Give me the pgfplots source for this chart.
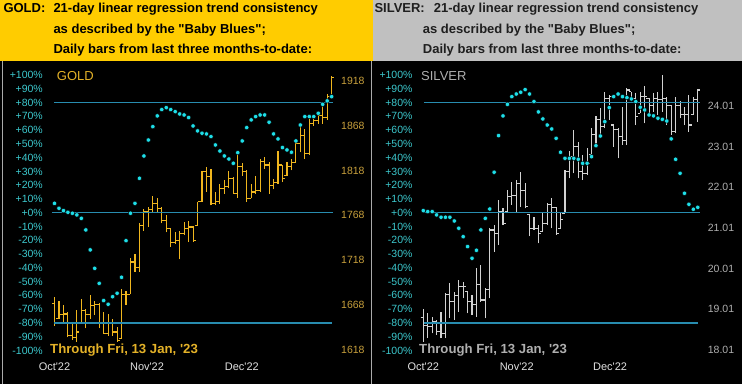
\documentclass[border=0pt]{standalone}
\usepackage{pgfplots}
\pgfplotsset{compat=1.18}
\usepackage{pgfplotstable}
\usepackage{fontspec}
\setmainfont{Liberation Sans}[Ligatures=TeXOff]

\definecolor{hdrgold}{RGB}{255,204,0}
\definecolor{hdrsilver}{RGB}{192,192,192}
\definecolor{pcttxt}{RGB}{60,200,205}
\definecolor{dotc}{RGB}{30,222,232}
\definecolor{hline}{RGB}{40,140,175}
\definecolor{goldbar}{RGB}{240,182,30}
\definecolor{goldtxt}{RGB}{228,178,40}
\definecolor{goldprice}{RGB}{200,160,60}
\definecolor{silverbar}{RGB}{210,210,210}
\definecolor{silvertxt}{RGB}{175,175,175}
\definecolor{monthtxt}{RGB}{225,225,225}
\definecolor{sep}{RGB}{170,170,170}

\newcommand\fs[1]{\fontsize{#1}{#1}\selectfont}

\pgfdeclareplotmark{otick}{\pgfpathmoveto{\pgfqpoint{-2.6pt}{0pt}}\pgfpathlineto{\pgfqpoint{0pt}{0pt}}\pgfusepathqstroke}
\pgfdeclareplotmark{ctick}{\pgfpathmoveto{\pgfqpoint{0pt}{0pt}}\pgfpathlineto{\pgfqpoint{2.6pt}{0pt}}\pgfusepathqstroke}

\pgfplotstableread{
x o h l c
0 1670 1677 1645 1649
1 1653 1673 1653 1657
2 1657 1668 1649 1658
3 1658 1660 1632 1634
4 1634 1649 1629 1632
5 1632 1662 1627 1638
6 1647 1675 1647 1662
7 1662 1664 1642 1657
8 1657 1679 1653 1668
9 1668 1673 1657 1669
10 1669 1670 1642 1649
11 1649 1660 1636 1636
12 1636 1658 1634 1649
13 1649 1653 1634 1638
14 1638 1644 1627 1629
15 1631 1686 1631 1680
16 1680 1684 1668 1680
17 1680 1720 1680 1716
18 1716 1725 1705 1710
19 1710 1759 1705 1757
20 1757 1775 1751 1772
21 1772 1777 1755 1774
22 1774 1790 1772 1781
23 1781 1787 1772 1776
24 1776 1777 1759 1762
25 1762 1768 1749 1753
26 1753 1753 1733 1738
27 1738 1749 1736 1740
28 1740 1751 1719 1748
29 1748 1760 1746 1753
30 1753 1762 1738 1755
31 1755 1756 1738 1740
32 1757 1783 1757 1783
33 1783 1817 1783 1817
34 1817 1822 1794 1811
35 1811 1820 1779 1781
36 1781 1794 1779 1783
37 1783 1803 1781 1798
38 1798 1807 1792 1800
39 1800 1817 1798 1809
40 1809 1811 1792 1792
41 1792 1835 1787 1822
42 1822 1826 1812 1817
43 1817 1818 1783 1787
44 1787 1803 1787 1794
45 1794 1812 1792 1796
46 1796 1831 1794 1828
47 1828 1833 1820 1824
48 1824 1827 1792 1801
49 1801 1808 1797 1805
50 1805 1840 1803 1824
51 1824 1824 1805 1809
52 1812 1827 1812 1822
53 1822 1831 1818 1827
54 1827 1852 1827 1848
55 1848 1868 1838 1857
56 1857 1864 1831 1837
57 1837 1877 1835 1870
58 1870 1879 1868 1874
59 1874 1883 1870 1879
60 1879 1894 1870 1877
61 1877 1903 1874 1900
62 1900 1923 1898 1922
}\golddata

\pgfplotstableread{
x o h l c
0 18.80 19.03 18.21 18.62
1 18.62 18.91 18.30 18.58
2 18.58 18.83 18.42 18.71
3 18.71 18.75 18.38 18.46
4 18.46 18.95 18.30 18.42
5 18.42 19.40 18.30 19.38
6 19.38 19.65 18.79 19.20
7 19.20 19.44 18.75 19.36
8 19.36 19.73 18.95 19.57
9 19.57 19.69 19.28 19.58
10 19.44 19.44 18.91 19.20
11 19.20 19.36 18.87 19.13
12 19.13 20.02 18.83 19.61
13 19.61 20.10 19.20 19.24
14 19.24 19.53 18.79 19.49
15 19.49 21.00 19.28 20.96
16 20.96 21.08 20.43 20.88
17 20.88 21.70 20.59 21.41
18 21.41 21.49 21.08 21.13
19 21.41 21.94 21.41 21.78
20 21.78 22.15 21.58 21.80
21 21.80 22.19 21.41 22.11
22 22.11 22.38 21.53 21.94
23 21.94 22.11 21.49 21.53
24 21.33 21.33 20.80 21.00
25 21.00 21.29 20.96 21.00
26 21.00 21.08 20.63 20.88
27 20.92 21.41 20.92 21.13
28 21.13 21.62 21.08 21.58
29 21.58 21.74 21.00 21.51
30 21.51 21.53 20.84 20.88
31 21.00 21.41 21.00 21.21
32 21.37 22.44 21.37 22.40
33 22.40 22.89 22.23 22.76
34 22.76 23.42 22.35 23.01
35 23.01 23.13 22.23 22.40
36 22.40 22.81 22.19 22.35
37 22.35 22.97 22.31 22.60
38 22.81 23.46 22.81 23.30
39 23.30 23.75 23.01 23.67
40 23.67 23.95 23.30 23.50
41 23.50 24.36 23.46 24.20
42 24.20 24.28 23.67 24.24
43 23.54 23.54 23.01 23.42
44 23.42 23.46 22.72 23.26
45 23.26 23.99 23.05 23.17
46 23.17 24.46 23.05 24.40
47 24.36 24.36 24.12 24.20
48 24.20 24.32 23.54 23.75
49 23.83 24.36 23.83 24.24
50 24.24 24.49 23.58 24.24
51 24.20 24.20 23.79 24.03
52 24.03 24.32 23.87 24.20
53 24.20 24.36 23.79 24.16
54 24.16 24.77 23.87 24.20
55 24.20 24.24 23.54 24.01
56 24.01 24.03 23.30 23.38
57 23.38 24.24 23.34 24.03
58 24.03 24.12 23.71 23.79
59 23.79 23.99 23.54 23.79
60 23.79 24.28 23.38 23.54
61 23.79 24.24 23.79 24.16
62 24.16 24.43 23.62 24.40
}\silverdata

\pgfplotstableread{
x p
0 6.8
1 3.2
2 1.5
3 0.3
4 -0.4
5 -1.6
6 -4.1
7 -12.5
8 -27.0
9 -40.4
10 -51.3
11 -63.8
12 -66.5
13 -61.0
14 -58.5
15 -46.9
16 -20.3
17 -0.4
18 6.8
19 25.0
20 41.2
21 52.8
22 62.5
23 70.3
24 74.9
25 76.3
26 74.9
27 73.4
28 71.7
29 71.0
30 69.1
31 63.0
32 59.4
33 57.7
34 57.2
35 55.3
36 49.2
37 44.8
38 41.2
39 39.0
40 35.9
41 43.6
42 52.1
43 61.8
44 67.4
45 69.8
46 71.0
47 71.0
48 65.7
49 57.2
50 53.6
51 47.3
52 45.6
53 43.9
54 52.1
55 63.7
56 69.8
57 69.8
58 69.8
59 72.2
60 78.7
61 81.2
62 84.3
}\goldpct

\pgfplotstableread{
x p
0 1.5
1 0.8
2 0.8
3 -1.6
4 -3.3
5 -3.3
6 -3.3
7 -6.0
8 -11.3
9 -17.4
10 -24.6
11 -33.1
12 -27.3
13 -12.5
14 -4.1
15 2.7
16 29.4
17 56.0
18 70.3
19 78.7
20 84.3
21 86.2
22 87.5
23 89.4
24 86.2
25 80.7
26 73.2
27 68.1
28 63.7
29 60.8
30 54.0
31 43.9
32 39.5
33 39.5
34 39.5
35 38.8
36 35.9
37 35.9
38 40.7
39 48.7
40 55.7
41 66.1
42 76.3
43 84.3
44 86.2
45 84.3
46 83.6
47 82.6
48 80.7
49 76.6
50 74.6
51 71.0
52 70.3
53 68.6
54 67.8
55 66.6
56 53.6
57 38.8
58 28.6
59 14.1
60 6.1
61 2.5
62 3.9
}\silverpct

\pgfplotsset{
  panel/.style={
    scale only axis, height=275.4pt, xmin=-1, xmax=63,
    anchor=south west, clip=false,
    axis line style={draw=none}, major tick length=0pt,
    tick style={draw=none},
    /pgf/number format/assume math mode=true,
  },
  pctaxis/.style={
    panel, ymin=-100, ymax=100,
    ytick={-100,-90,...,100},
    yticklabels={-100\%,-90\%,-80\%,-70\%,-60\%,-50\%,-40\%,-30\%,-20\%,-10\%,+0\%,+10\%,+20\%,+30\%,+40\%,+50\%,+60\%,+70\%,+80\%,+90\%,+100\%},
    yticklabel style={text=pcttxt, font=\fs{10.5}, inner sep=0pt, anchor=east},
    xticklabels={Oct'22,Nov'22,Dec'22},
    xticklabel style={text=monthtxt, font=\fs{11}, inner sep=0pt, anchor=base},
    xticklabel shift=19.6pt,
  },
  priceaxis/.style={
    panel, xtick=\empty, yticklabel pos=right,
    yticklabel style={font=\fs{10.5}, inner sep=0pt, anchor=west},
  },
}

\begin{document}
\begin{tikzpicture}
\path[use as bounding box] (0,0) rectangle (742pt,384pt);
\fill[black] (0,0) rectangle (742pt,384pt);
\fill[hdrgold] (0pt,323pt) rectangle (373pt,384pt);
\fill[hdrsilver] (373pt,323pt) rectangle (742pt,384pt);
\draw[sep, line width=1.2pt] (2.6pt,0pt) -- (2.6pt,323pt);
\draw[sep, line width=1.2pt] (371.6pt,0pt) -- (371.6pt,323pt);

% headers
\begin{scope}[every node/.style={anchor=base west, inner sep=0pt, font=\fs{13}\bfseries, text=black}]
\node at (3.3pt,371.3pt) {GOLD:};
\node at (53.3pt,371.3pt) {21-day linear regression trend consistency};
\node at (53.3pt,350.7pt) {as described by the "Baby Blues";};
\node at (53.3pt,330.7pt) {Daily bars from last three months-to-date:};
\end{scope}
\begin{scope}[every node/.style={anchor=base west, inner sep=0pt, font=\fs{13}\bfseries, text={black!88}}]
\node at (374.3pt,371.3pt) {SILVER:};
\node at (433.7pt,371.3pt) {21-day linear regression trend consistency};
\node at (422.7pt,350.7pt) {as described by the "Baby Blues";};
\node at (422.7pt,330.7pt) {Daily bars from last three months-to-date:};
\end{scope}

% ---------------- GOLD ----------------
\begin{axis}[priceaxis, at={(50.03pt,33.6pt)}, width=286.1pt,
  ymin=1617.5, ymax=1924.3,
  ytick={1618,1668,1718,1768,1818,1868,1918},
  yticklabels={1618,1668,1718,1768,1818,1868,1918},
  yticklabel shift=4.9pt,
  yticklabel style={text=goldprice}]
\addplot[draw=none, mark=none, error bars/.cd, y dir=plus, y explicit,
  error mark=none, error bar style={draw=goldbar, line width=1.1pt}]
  table[x=x, y=l, y error expr=\thisrow{h}-\thisrow{l}] {\golddata};
\addplot[only marks, mark=otick, goldbar, line width=1.1pt] table[x=x, y=o] {\golddata};
\addplot[only marks, mark=ctick, goldbar, line width=1.1pt] table[x=x, y=c] {\golddata};
\end{axis}
\begin{axis}[pctaxis, at={(50.03pt,33.6pt)}, width=286.1pt,
  xtick={0,20.7,41.9}, yticklabel shift=7pt]
\addplot[hline, line width=1.3pt] coordinates {(-0.1,80) (62.3,80)};
\addplot[hline, line width=1.3pt] coordinates {(-0.56,0) (62.3,0)};
\addplot[hline, line width=1.3pt] coordinates {(-0.1,-80) (62.0,-80)};
\addplot[only marks, mark=*, mark size=2.2pt, mark options={draw=none, fill=dotc}] table[x=x, y=p] {\goldpct};
\end{axis}

% ---------------- SILVER ----------------
\begin{axis}[priceaxis, at={(418.9pt,33.6pt)}, width=283.3pt,
  ymin=18.00, ymax=24.77,
  ytick={18.01,19.01,20.01,21.01,22.01,23.01,24.01},
  yticklabels={18.01,19.01,20.01,21.01,22.01,23.01,24.01},
  yticklabel shift=5.5pt,
  yticklabel style={text=silvertxt}]
\addplot[draw=none, mark=none, error bars/.cd, y dir=plus, y explicit,
  error mark=none, error bar style={draw=silverbar, line width=1.1pt}]
  table[x=x, y=l, y error expr=\thisrow{h}-\thisrow{l}] {\silverdata};
\addplot[only marks, mark=otick, silverbar, line width=1.1pt] table[x=x, y=o] {\silverdata};
\addplot[only marks, mark=ctick, silverbar, line width=1.1pt] table[x=x, y=c] {\silverdata};
\end{axis}
\begin{axis}[pctaxis, at={(418.9pt,33.6pt)}, width=283.3pt,
  xtick={0,21.1,42.2}, yticklabel shift=6.2pt]
\addplot[hline, line width=1.3pt] coordinates {(0.1,80) (62.5,80)};
\addplot[hline, line width=1.3pt] coordinates {(-0.1,0) (62.5,0)};
\addplot[hline, line width=1.3pt] coordinates {(0.1,-80) (62.0,-80)};
\addplot[only marks, mark=*, mark size=2.2pt, mark options={draw=none, fill=dotc}] table[x=x, y=p] {\silverpct};
\end{axis}

% in-chart labels
\node[anchor=base west, inner sep=0pt, font=\fs{13}, text=goldtxt] at (56.7pt,303.3pt) {GOLD};
\node[anchor=base west, inner sep=0pt, font=\fs{13}, text=silvertxt] at (421pt,303.3pt) {SILVER};
\node[anchor=base west, inner sep=0pt, font=\fs{13.2}\bfseries, text=goldtxt] at (50pt,30.7pt) {Through Fri, 13 Jan, '23};
\node[anchor=base west, inner sep=0pt, font=\fs{13.2}\bfseries, text=silvertxt] at (419pt,30.7pt) {Through Fri, 13 Jan, '23};
\end{tikzpicture}
\end{document}
